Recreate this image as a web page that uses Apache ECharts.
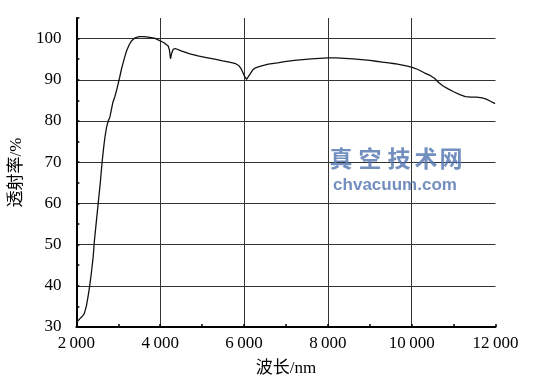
<!DOCTYPE html>
<html>
<head>
<meta charset="utf-8">
<script src="https://cdn.jsdelivr.net/npm/echarts@6/dist/echarts.min.js"></script>
<style>html,body{margin:0;padding:0;background:#fff}#c{width:533px;height:382px}</style>
</head>
<body>
<div id="c"></div>
<script>
// Wavelength (nm)
const wavelength = [2020,2060,2100,2150,2190,2240,2280,2310,2350,2400,2430,2480,2520,2570,2613,2650,2680,2720,2760,2780,2800,2830,2870,2920,2960,3000,3030,3080,3120,3160,3200,3260,3320,3400,3500,3620,3750,3860,3950,4090,4190,4220,4245,4270,4310,4360,4500,4710,4900,5100,5300,5490,5650,5800,5880,5930,5980,6020,6060,6100,6150,6200,6270,6400,6580,6800,6970,7200,7400,7600,7800,8000,8200,8400,8600,8800,9000,9150,9300,9450,9600,9750,9900,10010,10150,10300,10450,10550,10650,10750,10870,11000,11150,11280,11420,11550,11680,11780,11880,11990];
// Transmittance (%)
const transmittance = [31.3,31.7,32.2,32.7,33.3,35.2,37.5,39.5,42.5,47,51,56,60,65,70,73.5,76,78.5,80,80.5,81,82.5,84.5,86,87.5,89.2,90.5,92.8,94.3,95.8,97.1,98.5,99.5,100.2,100.5,100.5,100.3,100.1,99.7,99.0,98.2,97.2,95.1,96.3,97.4,97.6,97.0,96.3,95.8,95.4,95.0,94.6,94.3,93.9,93.4,92.7,91.6,90.7,90.1,90.4,91.5,92.3,92.9,93.3,93.8,94.1,94.4,94.7,94.9,95.1,95.2,95.3,95.3,95.2,95.1,94.9,94.7,94.5,94.3,94.1,93.9,93.6,93.3,93.0,92.5,91.7,91.0,90.3,89.3,88.5,87.8,87.1,86.4,85.9,85.8,85.8,85.6,85.3,84.8,84.2];
const xTickValues = [2000,4000,6000,8000,10000,12000];
const yTickValues = [30,40,50,60,70,80,90,100];
const xAxisName = '波长/nm';
const yAxisName = '透射率/%';
const watermarkChars = ['真','空','技','术','网'];
const watermarkUrl = 'chvacuum.com';

const serif = '"Liberation Serif", "Noto Sans CJK SC", serif';
const seriesData = wavelength.map((w, i) => [w, transmittance[i]]);

const chart = echarts.init(document.getElementById('c'), null, {renderer: 'canvas'});
const wmX = [341, 370, 399, 426, 451];
const graphics = watermarkChars.map((ch, i) => ({
  type: 'text', z: 100,
  style: {text: ch, x: wmX[i], y: 158, align: 'center', verticalAlign: 'middle',
    fill: 'rgba(80,115,175,0.8)', font: 'bold 23px "Noto Sans CJK SC"'}
}));
graphics.push({
  type: 'text', z: 100,
  style: {text: watermarkUrl, x: 395, y: 185, align: 'center', verticalAlign: 'middle',
    fill: 'rgba(80,115,175,0.8)', font: 'bold 17px "Liberation Sans"'}
});

chart.setOption({
  animation: false,
  backgroundColor: '#fff',
  grid: {left: 67, right: 37.5, top: 18, bottom: 51, containLabel: false},
  graphic: graphics,
  xAxis: [
    {
      type: 'value', min: xTickValues[0], max: xTickValues[xTickValues.length - 1], interval: 2000,
      position: 'bottom',
      axisLine: {show: true, onZero: false, lineStyle: {color: '#000', width: 2}},
      axisTick: {show: false},
      axisLabel: {
        color: '#000', fontFamily: serif, fontSize: 17, margin: 8,
        formatter: v => xTickValues.includes(v) ? String(v).replace(/(\d)(\d{3})$/, '$1\u2009$2') : ''
      },
      splitLine: {show: true, showMinLine: false, showMaxLine: false, lineStyle: {color: '#333', width: 1}},
      name: xAxisName, nameLocation: 'middle', nameGap: 33,
      nameTextStyle: {color: '#000', fontFamily: serif, fontSize: 17}
    },
    {
      type: 'value', min: 2000, max: 12000, interval: 1000, position: 'bottom',
      axisLine: {show: false}, axisLabel: {show: false}, splitLine: {show: false},
      axisTick: {show: true, inside: true, length: 3, lineStyle: {color: '#000', width: 1.5}}
    }
  ],
  yAxis: [
    {
      type: 'value', min: 30, max: 105, interval: 10, position: 'left',
      axisLine: {show: true, onZero: false, lineStyle: {color: '#000', width: 2}},
      axisTick: {show: false},
      axisLabel: {
        color: '#000', fontFamily: serif, fontSize: 17, margin: 15,
        formatter: v => yTickValues.includes(v) ? String(v) : ''
      },
      splitLine: {show: true, showMinLine: false, showMaxLine: false, lineStyle: {color: '#333', width: 1}},
      name: yAxisName, nameLocation: 'middle', nameGap: 45, nameRotate: 90,
      nameTextStyle: {color: '#000', fontFamily: serif, fontSize: 17}
    },
    {
      type: 'value', min: 30, max: 105, interval: 5, position: 'left',
      axisLine: {show: false}, axisLabel: {show: false}, splitLine: {show: false},
      axisTick: {show: true, inside: true, length: 3, lineStyle: {color: '#000', width: 1.5}}
    }
  ],
  series: [{
    type: 'line', xAxisIndex: 0, yAxisIndex: 0,
    data: seriesData, showSymbol: false, symbol: 'none',
    lineStyle: {color: '#111', width: 1.3}
  }]
});
</script>
</body>
</html>
